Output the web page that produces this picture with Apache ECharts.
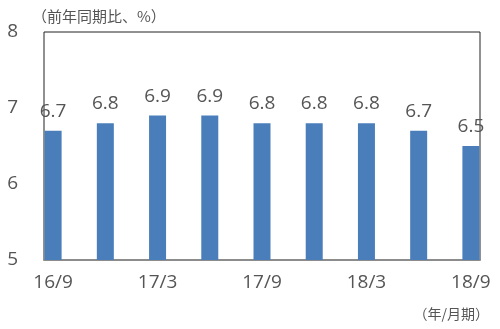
<!DOCTYPE html>
<html><head><meta charset="utf-8">
<script src="https://cdn.jsdelivr.net/npm/echarts@6/dist/echarts.min.js"></script>
<style>html,body{margin:0;padding:0;background:#fff}#c{width:500px;height:329px}</style>
</head><body><div id="c"></div>
<script>
const categories = ['16/9','16/12','17/3','17/6','17/9','17/12','18/3','18/6','18/9'];
const values = [6.7, 6.8, 6.9, 6.9, 6.8, 6.8, 6.8, 6.7, 6.5];
const yMin = 5, yMax = 8, yStep = 1;
const unitLabel = '（前年同期比、%）';
const periodLabel = '（年/月期）';

const font = '"Open Sans", "Noto Sans", "Noto Sans CJK JP", sans-serif';
const cjk = '"Noto Sans CJK JP", sans-serif';
const txt = '#555555';
const chart = echarts.init(document.getElementById('c'), null, {renderer:'canvas'});
chart.setOption({
  animation: false,
  title: [
    {text: unitLabel, left: 27, top: 4, textStyle: {fontSize: 15, fontWeight: 'normal', color: txt, fontFamily: cjk}},
    {text: periodLabel, right: 6, top: 302, textStyle: {fontSize: 14, fontWeight: 'normal', color: txt, fontFamily: cjk}}
  ],
  grid: [
    {left: 44, right: 20, top: 32, bottom: 69, show: true, borderColor: '#222', borderWidth: 1, backgroundColor: 'transparent'},
    {left: 27, right: 3, top: 32, bottom: 69}
  ],
  xAxis: [
    {type: 'category', gridIndex: 0, data: categories, axisLine: {show: true, lineStyle: {color: '#8c8c8c', width: 2}}, axisTick: {show: false}, axisLabel: {show: false}},
    {type: 'category', gridIndex: 1, data: categories, axisLine: {show: false}, axisTick: {show: false},
     axisLabel: {interval: 1, margin: 13, fontSize: 19, color: txt, fontFamily: font}}
  ],
  yAxis: [
    {type: 'value', gridIndex: 0, min: yMin, max: yMax, interval: yStep, splitLine: {show: false},
     axisLine: {show: false}, axisTick: {show: false},
     axisLabel: {margin: 26, fontSize: 19, color: txt, fontFamily: font}},
    {type: 'value', gridIndex: 1, min: yMin, max: yMax, interval: yStep, show: false, splitLine: {show: false}}
  ],
  series: [{
    type: 'bar', xAxisIndex: 1, yAxisIndex: 1, data: values, barWidth: 17,
    itemStyle: {color: '#4a7ebb'},
    label: {show: true, position: 'top', distance: 10, fontSize: 19, color: txt, fontFamily: font,
            formatter: p => p.value.toFixed(1)}
  }]
});
</script></body></html>
